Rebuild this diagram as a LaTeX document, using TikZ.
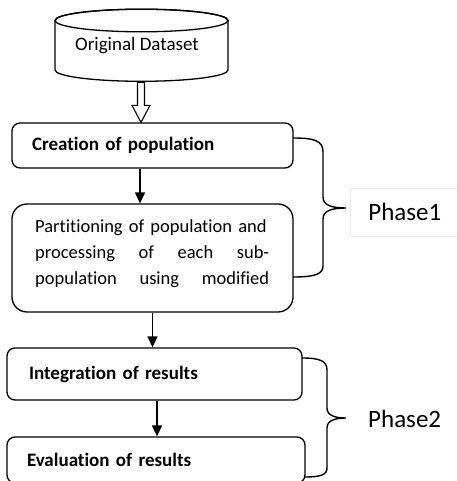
\documentclass[tikz,border=0pt]{standalone}
\usepackage{fontspec}
\setmainfont[Ligatures=NoCommon]{Carlito}
\usetikzlibrary{arrows.meta,calc}
\begin{document}
\begin{tikzpicture}[x=1pt,y=-1pt,
  box/.style={draw,line width=1.3pt,rounded corners=8pt,inner sep=0pt,anchor=center},
  arr/.style={line width=1.3pt,-{Triangle[width=10pt,length=11pt]}},
  brace/.style={line width=1.4pt},
  boxtxt/.style={font=\fontsize{19}{26}\selectfont\bfseries,align=left}]
\useasboundingbox (0,0) rectangle (456,481);
% cylinder
\draw[line width=1.3pt,fill=white] (55,70) -- (55,20.5) arc[start angle=180,end angle=360,x radius=86.5,y radius=11.3] -- (228,70) arc[start angle=0,end angle=180,x radius=86.5,y radius=11.3] -- cycle;
\draw[line width=1.3pt] (141.5,20.5) ellipse[x radius=86.5,y radius=11.3];
\node[inner sep=0pt,font=\fontsize{19}{22}\selectfont] (db) at (137,46) {Original Dataset};
\coordinate (dbb) at (141,81.5);
% boxes
\node[box,minimum width=281pt,minimum height=45pt,text width=241pt,inner xsep=20pt,boxtxt] (b1) at (152.5,145.5) {Creation of population};
\node[box,rounded corners=15pt,minimum width=281pt,minimum height=108pt] (b2) at (152.5,258) {};
\node[inner sep=0pt,text width=234pt,align=left,font=\fontsize{18.5}{26}\selectfont,anchor=north west] (t2) at (35,219) {%
\makebox[234pt][l]{Partitioning of population and}\\
\makebox[234pt][l]{processing\hfill of\hfill each\hfill sub-}\\
\makebox[234pt][l]{population\hfill using\hfill modified}};
\node[box,minimum width=295pt,minimum height=52pt,text width=251pt,inner xsep=22pt,boxtxt] (b3) at (154.5,374) {Integration of results};
\node[box,minimum width=298pt,minimum height=46pt,text width=258pt,inner xsep=20pt,boxtxt] (b4) at (156,460) {Evaluation of results};
% hollow arrow
\coordinate (tip) at ($(b1.north)+(-11.5,0)$);
\draw[line width=1.1pt,fill=white] (tip) -- ++(-9,-17) -- ++(5.5,0) -- ++(0,-23) -- ++(7,0) -- ++(0,23) -- ++(5.5,0) -- cycle;
% arrows
\draw[arr] ([xshift=-12.5pt]b1.south) -- ([xshift=-12.5pt]b1.south |- b2.north);
\draw[arr] (b2.south) -- (b2.south |- b3.north);
\draw[arr] ([xshift=2.5pt]b3.south) -- ([xshift=2.5pt]b3.south |- b4.north);
% braces
\draw[brace] (293,138) .. controls (315,138) and (323,141) .. (323,152) -- (323,197) .. controls (323,205) and (331,208) .. (346,208)
  .. controls (331,208) and (323,211) .. (323,219) -- (323,266) .. controls (323,274) and (315,277) .. (293,277);
\draw[brace] (302,358) .. controls (320,358) and (327,361) .. (327,370) -- (327,408) .. controls (327,415) and (334,418) .. (346,418)
  .. controls (334,418) and (327,421) .. (327,428) -- (327,468) .. controls (327,475) and (320,477) .. (305,477);
% phase labels
\node[draw=black!9,line width=0.8pt,minimum width=112pt,minimum height=48pt,anchor=west,inner xsep=18pt,text width=76pt,align=left,font=\fontsize{25}{29}\selectfont] (p1) at (350,212) {Phase1};
\node[anchor=west,inner xsep=18pt,inner ysep=0pt,text width=76pt,align=left,font=\fontsize{25}{29}\selectfont] (p2) at (350,419) {Phase2};
\end{tikzpicture}
\end{document}
